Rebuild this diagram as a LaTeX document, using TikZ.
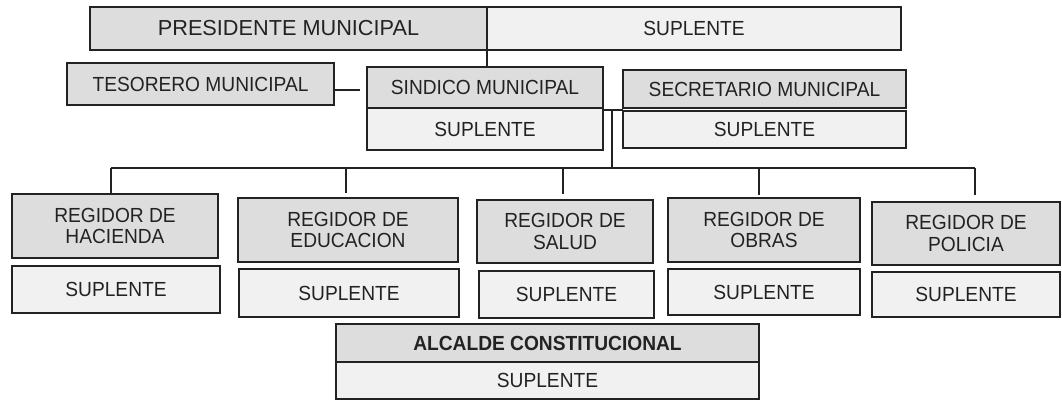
\documentclass[tikz,border=0pt]{standalone}
\usepackage{fontspec}
\setmainfont{Liberation Sans}
\newfontfamily\boxfont{Liberation Sans}[FakeStretch=0.94]
\definecolor{headfill}{HTML}{DDDDDD}
\definecolor{subfill}{HTML}{F1F1F1}
\definecolor{ink}{HTML}{222222}
\begin{document}
\begin{tikzpicture}[x=1pt,y=-1pt,
  box/.style={draw=ink, line width=1.6pt, text=ink, inner sep=0pt, outer sep=0pt, align=center,
    font=\boxfont\fontsize{20.4}{21.7}\selectfont},
  head/.style={box, fill=headfill},
  sub/.style={box, fill=subfill},
  conn/.style={draw=ink, line width=1.3pt}]
\useasboundingbox (0,0) rectangle (1062,400);
% top row
\node[head, minimum width=397pt, minimum height=43pt, font=\rmfamily\fontsize{21.7}{24}\selectfont] (pres) at (288.5,28.5) {PRESIDENTE MUNICIPAL};
\node[sub, minimum width=414pt, minimum height=43pt] (supT) at (694,28.5) {SUPLENTE};
% second row
\node[head, minimum width=267pt, minimum height=42pt] (tes) at (200.5,84) {TESORERO MUNICIPAL};
\node[head, minimum width=236pt, minimum height=41pt] (sinH) at (485,87.5) {SINDICO MUNICIPAL};
\node[sub, minimum width=236pt, minimum height=42pt] (sinS) at (485,129) {SUPLENTE};
\node[head, minimum width=283pt, minimum height=38pt] (secH) at (764.5,89) {SECRETARIO MUNICIPAL};
\node[sub, minimum width=283pt, minimum height=37pt] (secS) at (764.5,129.5) {SUPLENTE};
% regidores
\node[head, minimum width=206pt, minimum height=64pt] (hacH) at (115,226) {REGIDOR DE\\HACIENDA};
\node[sub, minimum width=208pt, minimum height=47pt] (hacS) at (116,289.5) {SUPLENTE};
\node[head, minimum width=220pt, minimum height=64pt] (eduH) at (348,230) {REGIDOR DE\\EDUCACION};
\node[sub, minimum width=220pt, minimum height=48pt] (eduS) at (349,293) {SUPLENTE};
\node[head, minimum width=176pt, minimum height=63pt] (salH) at (565,231.5) {REGIDOR DE\\SALUD};
\node[sub, minimum width=175pt, minimum height=47pt] (salS) at (566.5,294.5) {SUPLENTE};
\node[head, minimum width=192pt, minimum height=64pt] (obrH) at (764,230) {REGIDOR DE\\OBRAS};
\node[sub, minimum width=192pt, minimum height=46pt] (obrS) at (764,292) {SUPLENTE};
\node[head, minimum width=188pt, minimum height=63pt] (polH) at (966,233.5) {REGIDOR DE\\POLICIA};
\node[sub, minimum width=188pt, minimum height=45pt] (polS) at (966,294.5) {SUPLENTE};
% alcalde
\node[head, minimum width=423pt, minimum height=38pt, font=\boxfont\fontsize{20.4}{21.7}\selectfont\bfseries] (alcH) at (547.5,343) {ALCALDE CONSTITUCIONAL};
\node[sub, minimum width=423pt, minimum height=37pt] (alcS) at (547.5,380.5) {SUPLENTE};
% connectors
\draw[conn] (pres.south east) -- (pres.south east |- sinH.north);
\coordinate (tesend) at (360,90);
\draw[conn] (tes.east |- tesend) -- (tesend);
\coordinate (j) at (612,110);
\coordinate (bl) at (111,168);
\coordinate (br) at (975,168);
\draw[conn] (sinH.east |- j) -- (secH.west |- j);
\draw[conn] (j) -- (j |- bl);
\draw[conn] (bl) -- (br);
\draw[conn] (bl) -- (bl |- hacH.north);
\coordinate (t2) at (346,168);
\coordinate (t3) at (563,168);
\coordinate (t4) at (759,168);
\draw[conn] (t2) -- ++(0,25);
\draw[conn] (t3) -- ++(0,26);
\draw[conn] (t4) -- ++(0,27);
\draw[conn] (br) -- ++(0,27);
\end{tikzpicture}
\end{document}
